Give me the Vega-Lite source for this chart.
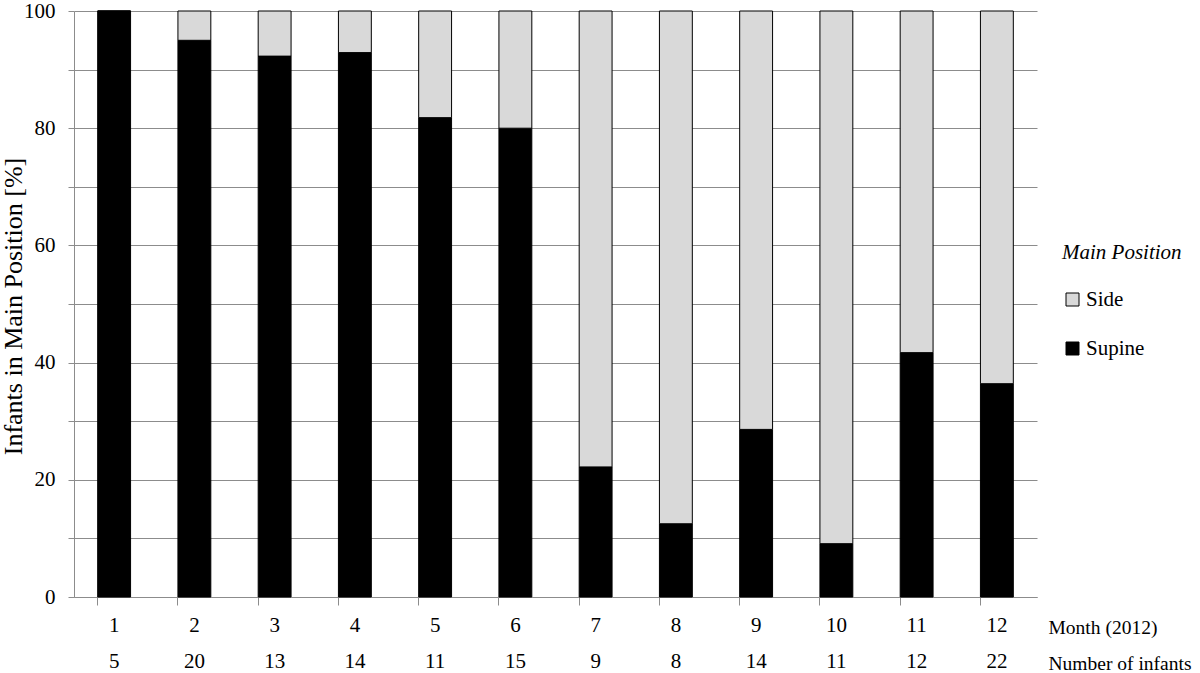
{
  "$schema": "https://vega.github.io/schema/vega-lite/v6.json",
  "width": 963,
  "height": 586,
  "autosize": {"type": "none"},
  "padding": {"left": 74, "top": 11, "right": 163, "bottom": 76},
  "background": "white",
  "config": {
    "font": "Liberation Serif, DejaVu Serif, serif",
    "view": {"stroke": null},
    "axis": {"labelFont": "Liberation Serif, DejaVu Serif, serif", "titleFont": "Liberation Serif, DejaVu Serif, serif", "labelFontSize": 21, "titleFontSize": 21, "labelColor": "black", "titleColor": "black", "titleFontWeight": "normal", "domainColor": "#8c8c8c", "tickColor": "#8c8c8c", "gridColor": "#8c8c8c"},
    "legend": {"labelFont": "Liberation Serif, DejaVu Serif, serif", "titleFont": "Liberation Serif, DejaVu Serif, serif"}
  },
  "data": {
    "values": [
      {"xlab": "1|5", "position": "Supine", "pct": 100},
      {"xlab": "1|5", "position": "Side", "pct": 0},
      {"xlab": "2|20", "position": "Supine", "pct": 95},
      {"xlab": "2|20", "position": "Side", "pct": 5},
      {"xlab": "3|13", "position": "Supine", "pct": 92.3},
      {"xlab": "3|13", "position": "Side", "pct": 7.7},
      {"xlab": "4|14", "position": "Supine", "pct": 92.9},
      {"xlab": "4|14", "position": "Side", "pct": 7.1},
      {"xlab": "5|11", "position": "Supine", "pct": 81.8},
      {"xlab": "5|11", "position": "Side", "pct": 18.2},
      {"xlab": "6|15", "position": "Supine", "pct": 80},
      {"xlab": "6|15", "position": "Side", "pct": 20},
      {"xlab": "7|9", "position": "Supine", "pct": 22.2},
      {"xlab": "7|9", "position": "Side", "pct": 77.8},
      {"xlab": "8|8", "position": "Supine", "pct": 12.5},
      {"xlab": "8|8", "position": "Side", "pct": 87.5},
      {"xlab": "9|14", "position": "Supine", "pct": 28.6},
      {"xlab": "9|14", "position": "Side", "pct": 71.4},
      {"xlab": "10|11", "position": "Supine", "pct": 9.1},
      {"xlab": "10|11", "position": "Side", "pct": 90.9},
      {"xlab": "11|12", "position": "Supine", "pct": 41.7},
      {"xlab": "11|12", "position": "Side", "pct": 58.3},
      {"xlab": "12|22", "position": "Supine", "pct": 36.4},
      {"xlab": "12|22", "position": "Side", "pct": 63.6}
    ]
  },
  "mark": {"type": "bar", "stroke": "black", "strokeWidth": 1},
  "encoding": {
    "x": {
      "field": "xlab", "type": "nominal", "sort": null,
      "scale": {"paddingInner": 0.59, "paddingOuter": 0.295},
      "axis": {
        "labelExpr": "split(datum.value, '|')",
        "labelAngle": 0, "labelLineHeight": 36, "labelPadding": 9, "tickSize": 8, "bandPosition": 0,
        "labelBaseline": "top",
        "title": ["Month (2012)", "Number of infants"],
        "titleX": 974, "titleY": 36, "titleAlign": "left", "titleAnchor": "start", "titleBaseline": "alphabetic", "titleLineHeight": 36, "titleAngle": 0, "titleFontSize": 19.5
      }
    },
    "y": {
      "field": "pct", "type": "quantitative", "stack": "zero",
      "scale": {"domain": [0, 100], "nice": false},
      "axis": {
        "values": [0, 10, 20, 30, 40, 50, 60, 70, 80, 90, 100],
        "labelExpr": "datum.value % 20 == 0 ? datum.label : ''",
        "grid": true, "tickSize": 6, "labelPadding": 13,
        "title": "Infants in Main Position [%]",
        "titleX": -61, "titleY": 295, "titleAngle": -90, "titleAlign": "center", "titleBaseline": "middle", "titleAnchor": "middle", "titleFontSize": 26
      }
    },
    "color": {
      "field": "position", "type": "nominal",
      "scale": {"domain": ["Side", "Supine"], "range": ["#d9d9d9", "#000000"]},
      "legend": {
        "title": "Main Position", "titleFontStyle": "italic", "titleFontWeight": "normal", "titleFontSize": 21, "titleColor": "black",
        "labelFontSize": 21, "labelColor": "black",
        "orient": "none", "legendX": 988, "legendY": 231,
        "symbolType": "square", "symbolSize": 169, "symbolStrokeColor": "black", "symbolStrokeWidth": 1,
        "rowPadding": 27, "titlePadding": 26, "labelOffset": 3
      }
    },
    "order": {"field": "position", "sort": "descending"}
  }
}
